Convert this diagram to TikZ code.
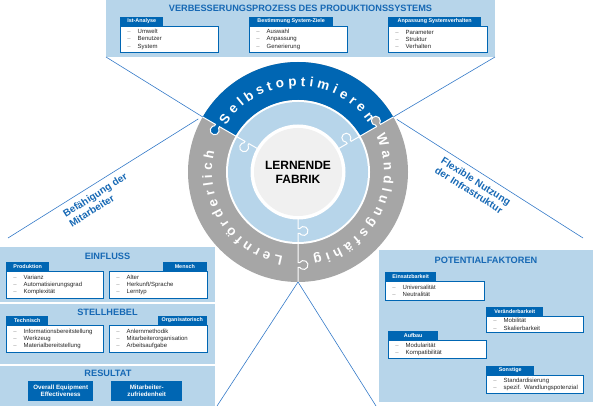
\documentclass[tikz,border=0pt]{standalone}
\usepackage{fontspec}
\setmainfont{Liberation Sans}
\usetikzlibrary{decorations.text}
\definecolor{panelblue}{RGB}{183,213,234}
\definecolor{darkblue}{RGB}{0,102,179}
\definecolor{titleblue}{RGB}{22,104,180}
\definecolor{lineblue}{RGB}{52,122,200}
\definecolor{ringgray}{RGB}{166,166,166}
\definecolor{centergray}{RGB}{240,240,240}
\definecolor{dashgray}{RGB}{140,140,140}
\newcommand{\itm}[1]{\mbox{\textcolor{dashgray}{--}\hspace{7pt}#1}}
\newcommand{\ringfont}{\bfseries\fontsize{13.5}{13.5}\selectfont\color{white}}
\tikzset{
  panel/.style={fill=panelblue, inner sep=0pt, outer sep=0pt, anchor=north west},
  paneltitle/.style={text=titleblue, font=\bfseries\fontsize{9.2}{11}\selectfont},
  tab/.style={fill=darkblue, text=white, font=\bfseries\fontsize{5.4}{6}\selectfont,
    minimum height=8.5pt, inner sep=0pt},
  itembox/.style={draw=darkblue, line width=0.8pt, fill=white, anchor=north west,
    align=left, inner xsep=7pt, inner ysep=0pt, text=black!85,
    font=\fontsize{6}{7.2}\selectfont},
  resbox/.style={fill=darkblue, text=white, align=center, inner sep=0pt, anchor=south west,
    minimum height=20pt, font=\bfseries\fontsize{6.2}{7.4}\selectfont},
  connector/.style={draw=lineblue, line width=0.6pt},
  sidelabel/.style={text=titleblue, align=left, font=\bfseries\fontsize{10}{11.5}\selectfont},
  seam/.style={draw=white, line width=1pt}
}

\begin{document}
\begin{tikzpicture}[x=1pt, y=1pt]
\useasboundingbox (0,0) rectangle (593,406);

% panels
\node[panel, minimum width=389pt, minimum height=57pt] (topPanel) at (106,406) {};
\node[panel, minimum width=215pt, minimum height=55pt] (inPanel) at (0,159) {};
\node[panel, minimum width=215pt, minimum height=60pt] (stPanel) at (0,102) {};
\node[panel, minimum width=215pt, minimum height=40pt] (resPanel) at (0,40) {};
\node[panel, minimum width=214pt, minimum height=152pt] (potPanel) at (379,156) {};

\node[paneltitle] (topTitle) at (300.5,397.5) {VERBESSERUNGSPROZESS DES PRODUKTIONSSYSTEMS};
\node[paneltitle] (inTitle) at (107.5,150) {EINFLUSS};
\node[paneltitle] (stTitle) at (107.5,94) {STELLHEBEL};
\node[paneltitle] (resTitle) at (108,33) {RESULTAT};
\node[paneltitle] (potTitle) at (486,146) {POTENTIALFAKTOREN};

% verbesserungsprozess
\node[itembox, text width=84pt, minimum height=26pt] (boxIst) at (120,380) {\itm{Umwelt}\\\itm{Benutzer}\\\itm{System}};
\node[tab, minimum width=43pt, anchor=south west] (tabIst) at (120,380) {Ist-Analyse};
\node[itembox, text width=84pt, minimum height=26pt] (boxZiel) at (249,380) {\itm{Auswahl}\\\itm{Anpassung}\\\itm{Generierung}};
\node[tab, minimum width=84pt, anchor=south west] (tabZiel) at (249,380) {Bestimmung System-Ziele};
\node[itembox, text width=85pt, minimum height=26pt] (boxVerh) at (388,380) {\itm{Parameter}\\\itm{Struktur}\\\itm{Verhalten}};
\node[tab, minimum width=93pt, anchor=south west] (tabVerh) at (388,380) {Anpassung Systemverhalten};

% einfluss
\node[itembox, text width=83pt, minimum height=27pt] (boxProd) at (6,135) {\itm{Varianz}\\\itm{Automatisierungsgrad}\\\itm{Komplexität}};
\node[tab, minimum width=43pt, anchor=south west] (tabProd) at (6,135) {Produktion};
\node[itembox, text width=84pt, minimum height=27pt] (boxMensch) at (109,135) {\itm{Alter}\\\itm{Herkunft/Sprache}\\\itm{Lerntyp}};
\node[tab, minimum width=44pt, anchor=south east] (tabMensch) at (207,135) {Mensch};

% stellhebel
\node[itembox, text width=83pt, minimum height=27pt] (boxTech) at (6,81) {\itm{Informationsbereitstellung}\\\itm{Werkzeug}\\\itm{Materialbereitstellung}};
\node[tab, minimum width=42pt, anchor=south west] (tabTech) at (6,81) {Technisch};
\node[itembox, text width=84pt, minimum height=27pt] (boxOrg) at (109,81) {\itm{Anlernmethodik}\\\itm{Mitarbeiterorganisation}\\\itm{Arbeitsaufgabe}};
\node[tab, minimum width=49pt, anchor=south east] (tabOrg) at (207,81) {Organisatorisch};

% resultat
\node[resbox, minimum width=65pt] (resOEE) at (28,5) {Overall Equipment\\Effectiveness};
\node[resbox, minimum width=71pt] (resMA) at (111,5) {Mitarbeiter-\\zufriedenheit};

% potentialfaktoren
\node[itembox, text width=85pt, minimum height=19pt] (boxEins) at (385,125) {\itm{Universalität}\\\itm{Neutralität}};
\node[tab, minimum width=51pt, anchor=south west] (tabEins) at (385,125) {Einsatzbarkeit};
\node[itembox, text width=83pt, minimum height=16pt] (boxVer) at (486,90) {\itm{Mobilität}\\\itm{Skalierbarkeit}};
\node[tab, minimum width=57pt, anchor=south west] (tabVer) at (486,90) {Veränderbarkeit};
\node[itembox, text width=84pt, minimum height=18pt] (boxAuf) at (388,66) {\itm{Modularität}\\\itm{Kompatibilität}};
\node[tab, minimum width=50pt, anchor=south west] (tabAuf) at (388,66) {Aufbau};
\node[itembox, text width=83pt, minimum height=18pt] (boxSon) at (486,31) {\itm{Standardisierung}\\\itm{spezif. Wandlungspotenzial}};
\node[tab, minimum width=48pt, anchor=south west] (tabSon) at (486,31) {Sonstige};

% lernende fabrik
\begin{scope}[shift={(298,234)}]
  \fill[ringgray] (0,0) circle (110);
  \fill[darkblue] (30:110) arc[start angle=30, end angle=150, radius=110]
    -- (150:72) arc[start angle=150, end angle=30, radius=72] -- cycle;
  \fill[white] (0,0) circle (72);
  \fill[panelblue] (0,0) circle (70);
  \fill[white] (0,0) circle (47.5);
  \fill[centergray] (0,0) circle (44);
  \foreach \ang/\rin/\rmid/\rout/\col in {150/71/93/111/darkblue, 30/71/93/111/ringgray,
      270/71/93/111/ringgray, 150/47/59/71/panelblue, 30/47/59/71/panelblue, 270/47/59/71/panelblue}{
    \begin{scope}[rotate=\ang]
      \fill[\col] (\rmid-2.3,-0.6) -- (\rmid-2.3,1.63) arc[start angle=239.3, end angle=-59.3, radius=4.5]
        -- (\rmid+2.3,-0.6) -- cycle;
      \draw[seam] (\rin,0) -- (\rmid-2.3,0) -- (\rmid-2.3,1.63)
        arc[start angle=239.3, end angle=-59.3, radius=4.5] -- (\rmid+2.3,0) -- (\rout,0);
    \end{scope}
  }
  \path[decorate, decoration={text along path, text align={fit to path},
    text={|\ringfont|Selbstoptimieren}}] (147:86) arc[start angle=147, end angle=35, radius=86];
  \path[decorate, decoration={text along path, text align={fit to path},
    text={|\ringfont|Wandlungsfähig}}] (25:86) arc[start angle=25, end angle=-80, radius=86];
  \path[decorate, decoration={text along path, text align={fit to path},
    text={|\ringfont|Lernförderlich}}] (260:86) arc[start angle=260, end angle=166, radius=86];
  \node[align=center, font=\bfseries\fontsize{12}{14}\selectfont] (fabrik) at (0,0) {LERNENDE\\FABRIK};
  \coordinate (ringNW) at (150:110);
  \coordinate (ringWb) at (152:113);
  \coordinate (ringNE) at (30:110);
  \coordinate (ringEb) at (28:112);
  \coordinate (ringS) at (270:110);
\end{scope}

% verbindungen
\coordinate (sideL) at (8,168);
\coordinate (sideR) at (583,168);
\coordinate (footL) at (217,0);
\coordinate (footR) at (376,0);
\draw[connector] (topPanel.south west) -- (ringNW);
\draw[connector] (topPanel.south east) -- (ringNE);
\draw[connector] (ringWb) -- (sideL);
\draw[connector] (ringEb) -- (sideR);
\draw[connector] (ringS) -- (footL);
\draw[connector] (ringS) -- (footR);

\node[sidelabel, rotate=32.4] (befLabel) at (98,206) {Befähigung der\\Mitarbeiter};
\node[sidelabel, rotate=-32.4] (flexLabel) at (473,220) {Flexible Nutzung\\der Infrastruktur};
\end{tikzpicture}
\end{document}
